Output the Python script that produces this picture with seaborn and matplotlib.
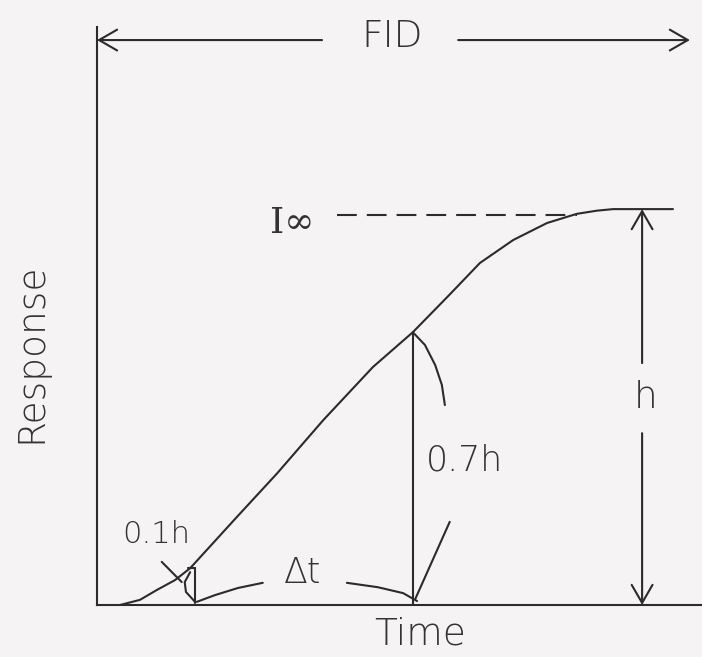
import matplotlib
matplotlib.use("Agg")
import matplotlib.pyplot as plt
import seaborn as sns
import pandas as pd

# ---- data (time in arbitrary units, response in units of h) ----
time = [0.38, 0.71, 0.99, 1.29, 1.54, 2.31, 2.98, 3.74, 4.56, 5.22, 5.79, 6.33, 6.88, 7.44, 7.93, 8.26, 8.53, 9.52]
response = [0.0, 0.013, 0.038, 0.063, 0.093, 0.222, 0.333, 0.467, 0.601, 0.689, 0.778, 0.864, 0.922, 0.965, 0.988, 0.996, 1.0, 1.0]

t_01h = 1.62          # time where response reaches 0.1h
t_07h = 5.22          # time where response reaches 0.7h
r_07h = 0.689
h_level = 1.0
dash_level = 0.985
dash_span = [3.97, 7.93]
h_pos = 9.01
h_gap = [0.434, 0.611]
fid_level = 1.427
fid_left = [0.0, 3.72]
fid_right = [5.97, 9.80]

# construction strokes
x_tick_t = [1.07, 1.40]
x_tick_r = [0.109, 0.058]
arc01_t = [1.54, 1.45, 1.47, 1.62]
arc01_r = [0.083, 0.058, 0.033, 0.008]
dt_left_t = [1.65, 1.95, 2.33, 2.74]
dt_left_r = [0.008, 0.025, 0.043, 0.056]
dt_right_t = [4.13, 4.64, 5.06, 5.29]
dt_right_r = [0.056, 0.045, 0.030, 0.010]
arc07_t = [5.22, 5.42, 5.59, 5.70, 5.75]
arc07_r = [0.689, 0.657, 0.606, 0.556, 0.505]
low07_t = [5.26, 5.83]
low07_r = [0.015, 0.210]

labels = {"fid": "FID", "inf": "I∞", "h": "h", "h07": "0.7h", "h01": "0.1h", "dt": "Δt"}

# ---- figure ----
sns.set_theme(style="white")
plt.rcParams["font.family"] = ["DejaVu Sans"]
BG = "#f5f3f3"
INK = "#2b2b2b"
TXT = "#333333"

fig = plt.figure(figsize=(7.02, 6.57), dpi=100, facecolor=BG)
ax = fig.add_axes([97 / 702, 52 / 657, 605 / 702, 578 / 657])
ax.set_facecolor(BG)

df = pd.DataFrame({"Time": time, "Response": response})
sns.lineplot(data=df, x="Time", y="Response", ax=ax, color=INK, lw=1.5,
             sort=False, estimator=None)

ax.set_xlim(0, 10.0)
ax.set_ylim(0, 1.46)
ax.set_xticks([])
ax.set_yticks([])
for s in ["top", "right"]:
    ax.spines[s].set_visible(False)
for s in ["left", "bottom"]:
    ax.spines[s].set_color(INK)
    ax.spines[s].set_linewidth(1.5)

fw = 200
ax.set_xlabel("Time", fontsize=27, color=TXT, fontweight=fw, labelpad=2)
ax.xaxis.set_label_coords((420 - 97) / 605, -0.02, transform=ax.transAxes)
ax.xaxis.label.set_va("top")
ax.set_ylabel("Response", fontsize=27, color=TXT, fontweight=fw)
ax.yaxis.set_label_coords(-(97 - 48) / 605, (605 - 353) / 578)

kw = dict(color=INK, lw=1.5, clip_on=False)

# dashed I-infinity line
ax.plot(dash_span, [dash_level, dash_level], ls=(0, (9.5, 4.8)), **kw)

# 0.7h vertical
ax.plot([t_07h, t_07h], [0, r_07h], **kw)
ax.plot(arc07_t, arc07_r, **kw)
ax.plot(low07_t, low07_r, **kw)

# 0.1h construction
ax.plot([t_01h, t_01h], [0.005, 0.093], **kw)
ax.plot([1.50, t_01h], [0.093, 0.093], **kw)
ax.plot(x_tick_t, x_tick_r, **kw)
ax.plot(arc01_t, arc01_r, **kw)

# delta t arcs
ax.plot(dt_left_t, dt_left_r, **kw)
ax.plot(dt_right_t, dt_right_r, **kw)

arrow = dict(arrowstyle="->,head_length=1.3,head_width=0.75", color=INK, lw=1.5,
             shrinkA=0, shrinkB=0, mutation_scale=10)
# h dimension
ax.annotate("", xy=(h_pos, h_level), xytext=(h_pos, h_gap[1]), arrowprops=arrow,
            annotation_clip=False)
ax.annotate("", xy=(h_pos, 0), xytext=(h_pos, h_gap[0]), arrowprops=arrow,
            annotation_clip=False)

# FID arrow
ax.annotate("", xy=(fid_left[0], fid_level), xytext=(fid_left[1], fid_level),
            arrowprops=arrow, annotation_clip=False)
ax.annotate("", xy=(fid_right[1], fid_level), xytext=(fid_right[0], fid_level),
            arrowprops=arrow, annotation_clip=False)

tk = dict(color=TXT, fontweight=fw, ha="center", va="center", clip_on=False)
ax.text(4.88, 1.437, labels["fid"], fontsize=27, **tk)
ax.text(3.22, 0.965, labels["inf"], fontsize=26, family=["DejaVu Serif"], **tk)
ax.text(9.06, 0.523, labels["h"], fontsize=27, **tk)
ax.text(6.07, 0.366, labels["h07"], fontsize=25, **tk)
ax.text(0.975, 0.177, labels["h01"], fontsize=22, **tk)
ax.text(3.40, 0.081, labels["dt"], fontsize=25, **tk)

fig.savefig("out.png", dpi=100, facecolor=BG)
